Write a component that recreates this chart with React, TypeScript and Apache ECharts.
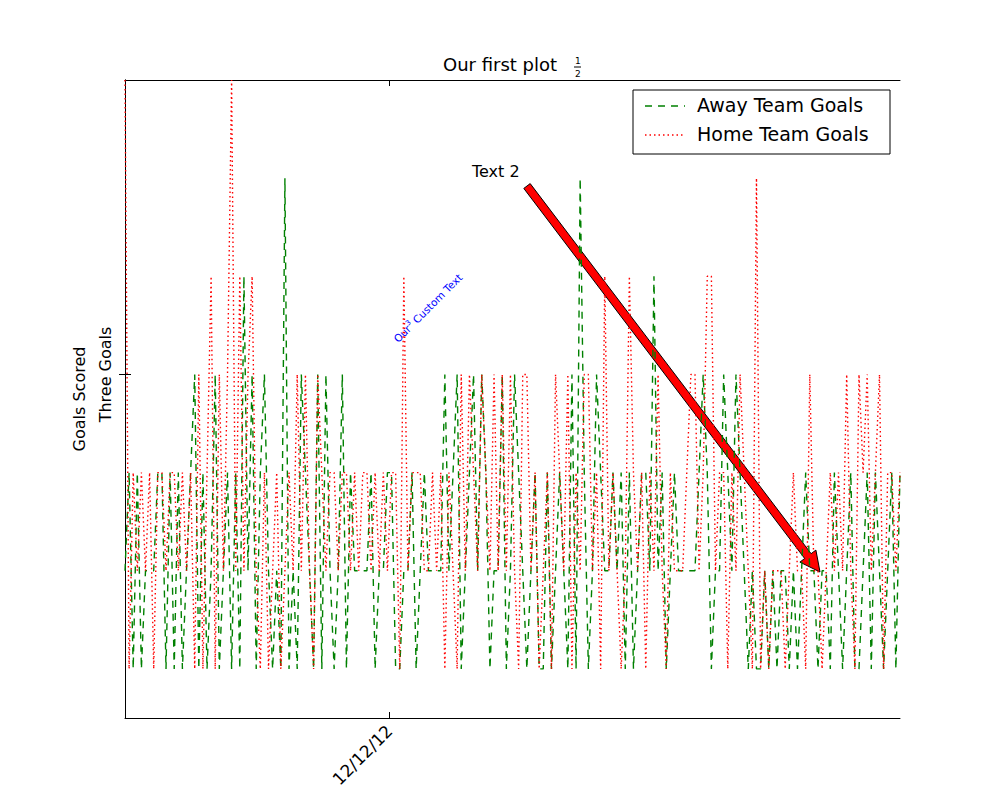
import * as echarts from "echarts";
import { useEffect, useRef } from "react";

const AWAY = [
  1,2,0,2,0,1,1,1,2,2, 0,2,0,2,0,1,2,3,0,2, 0,1,3,0,1,2,0,2,0,4, 1,3,0,2,3,1,0,1,0,5,
  0,1,0,3,2,1,0,3,0,3, 1,0,1,3,0,2,1,1,1,1, 2,0,1,1,2,2,0,0,1,1, 2,0,1,2,1,1,1,1,3,1,
  2,3,0,1,2,3,1,3,2,0, 1,1,3,0,1,3,2,1,0,1, 2,0,0,2,0,1,2,1,0,3, 0,5,2,0,1,3,2,1,1,2,
  1,2,0,2,0,1,2,2,1,4, 1,2,0,1,2,1,1,1,1,1, 2,3,2,0,1,1,3,2,1,3, 2,1,0,1,0,0,1,0,1,0,
  1,1,0,1,0,1,2,1,1,0, 1,1,0,2,1,0,1,2,0,0, 1,2,0,2,1,0,1,2,0,2,
];
const HOME = [
  6,0,2,1,2,1,2,0,2,2, 1,2,2,1,2,1,2,0,3,0, 2,4,0,3,1,3,6,1,4,1, 3,4,1,0,2,0,1,2,0,1,
  2,1,3,1,3,1,0,3,2,1, 2,2,1,2,2,1,2,1,2,2, 1,2,1,2,1,2,2,0,4,1, 2,2,2,1,1,2,1,2,0,2,
  1,0,3,1,3,2,1,3,2,1, 3,1,3,1,3,1,0,3,3,1, 2,0,1,2,0,3,2,1,3,0, 2,1,3,3,1,2,0,4,1,2,
  1,0,1,4,2,1,2,0,2,1, 3,1,0,2,1,1,1,2,3,3, 1,2,4,4,1,2,2,0,2,1, 3,2,1,0,5,0,1,0,1,1,
  1,0,1,2,1,1,0,3,1,1, 0,1,2,1,2,1,3,1,0,3, 2,3,1,2,3,0,2,2,1,2,
];
const X_TICK = 64.5;
const X_TICK_LABEL = "12/12/12";
const Y_TICK = 3;
const Y_TICK_LABEL = "Three Goals";

const FONT = "DejaVu Sans";

export default function App() {
  const ref = useRef<HTMLDivElement>(null);

  useEffect(() => {
    document.body.style.margin = "0";
    const el = ref.current;
    if (!el) return;
    const chart = echarts.init(el, null, { renderer: "svg" });
    const n = AWAY.length;
    chart.setOption({
      animation: false,
      textStyle: { fontFamily: FONT },
      grid: { left: 125, right: 100, top: 80, bottom: 82 },
      xAxis: [
        {
          type: "value",
          min: 0,
          max: n - 1,
          splitLine: { show: false },
          axisLine: { onZero: false, lineStyle: { color: "#000" } },
          axisTick: { inside: true, length: 6, customValues: [X_TICK], lineStyle: { color: "#000" } },
          axisLabel: {
            customValues: [X_TICK],
            formatter: () => X_TICK_LABEL,
            rotate: 45,
            color: "#000",
            fontSize: 17,
            margin: 10,
          },
        },
        {
          type: "value",
          position: "top",
          min: 0,
          max: n - 1,
          splitLine: { show: false },
          axisLine: { onZero: false, lineStyle: { color: "#000" } },
          axisTick: { inside: true, length: 6, customValues: [X_TICK], lineStyle: { color: "#000" } },
          axisLabel: { show: false },
        },
      ],
      yAxis: [
        {
          type: "value",
          min: -0.5,
          max: 6,
          splitLine: { show: false },
          axisLine: { show: true, lineStyle: { color: "#000" } },
          axisTick: { inside: true, length: 6, customValues: [Y_TICK], lineStyle: { color: "#000" } },
          axisLabel: {
            customValues: [Y_TICK],
            formatter: () => Y_TICK_LABEL,
            rotate: 90,
            color: "#000",
            fontSize: 16,
            margin: 12,
          },
          name: "Goals Scored",
          nameLocation: "middle",
          nameGap: 38,
          nameRotate: 90,
          nameTextStyle: { color: "#000", fontSize: 16 },
        },
        {
          type: "value",
          position: "right",
          min: -0.5,
          max: 6,
          splitLine: { show: false },
          axisLine: { show: true, lineStyle: { color: "#000" } },
          axisTick: { inside: true, length: 6, customValues: [Y_TICK], lineStyle: { color: "#000" } },
          axisLabel: { show: false },
        },
      ],
      series: [
        {
          type: "line",
          name: "Away Team Goals",
          data: AWAY.map((v, i) => [i, v]),
          showSymbol: false,
          lineStyle: { color: "#008000", width: 1.4, type: [7, 6] },
        },
        {
          type: "line",
          name: "Home Team Goals",
          data: HOME.map((v, i) => [i, v]),
          showSymbol: false,
          lineStyle: { color: "#ff0000", width: 1.4, type: [1.5, 3] },
        },
      ],
      graphic: [
        { type: "text", x: 443, y: 55, style: { text: "Our first plot", fontFamily: FONT, fontSize: 18, fill: "#000" } },
        { type: "text", x: 575, y: 56, style: { text: "1", fontFamily: FONT, fontSize: 9, fill: "#000" } },
        { type: "line", shape: { x1: 574, y1: 67, x2: 581, y2: 67 }, style: { stroke: "#000", lineWidth: 1 } },
        { type: "text", x: 575, y: 69, style: { text: "2", fontFamily: FONT, fontSize: 9, fill: "#000" } },
        // legend
        { type: "rect", shape: { x: 633, y: 90, width: 257, height: 64 }, style: { fill: "#fff", stroke: "#000", lineWidth: 1 } },
        { type: "line", shape: { x1: 645, y1: 106, x2: 685, y2: 106 }, style: { stroke: "#008000", lineWidth: 1.4, lineDash: [7, 6] } },
        { type: "text", x: 697, y: 95, style: { text: "Away Team Goals", fontFamily: FONT, fontSize: 19, fill: "#000" } },
        { type: "line", shape: { x1: 645, y1: 135, x2: 685, y2: 135 }, style: { stroke: "#ff0000", lineWidth: 1.4, lineDash: [1.5, 3] } },
        { type: "text", x: 697, y: 124, style: { text: "Home Team Goals", fontFamily: FONT, fontSize: 19, fill: "#000" } },
        // annotation
        { type: "text", x: 472, y: 163, style: { text: "Text 2", fontFamily: FONT, fontSize: 16, fill: "#000" } },
        {
          type: "polygon",
          shape: {
            points: [
              [523.8, 188.4], [804.7, 558.5], [799.9, 562.1], [820, 572],
              [815.9, 550.1], [811.1, 553.7], [530.2, 183.6],
            ],
          },
          style: { fill: "#ff0000", stroke: "#000", lineWidth: 1 },
        },
        {
          type: "text",
          x: 400,
          y: 345,
          rotation: Math.PI / 4,
          style: {
            text: "{a|Our}{s|3}{a| Custom Text}",
            fontFamily: FONT,
            rich: {
              a: { fontSize: 10.5, fill: "#0000ff", fontFamily: FONT },
              s: { fontSize: 7, fill: "#0000ff", fontFamily: FONT, verticalAlign: "top", padding: [0, 0, 6, 0] },
            },
            verticalAlign: "bottom",
          },
        },
      ],
    });
    return () => chart.dispose();
  }, []);

  return <div ref={ref} style={{ width: 1000, height: 800 }} />;
}
